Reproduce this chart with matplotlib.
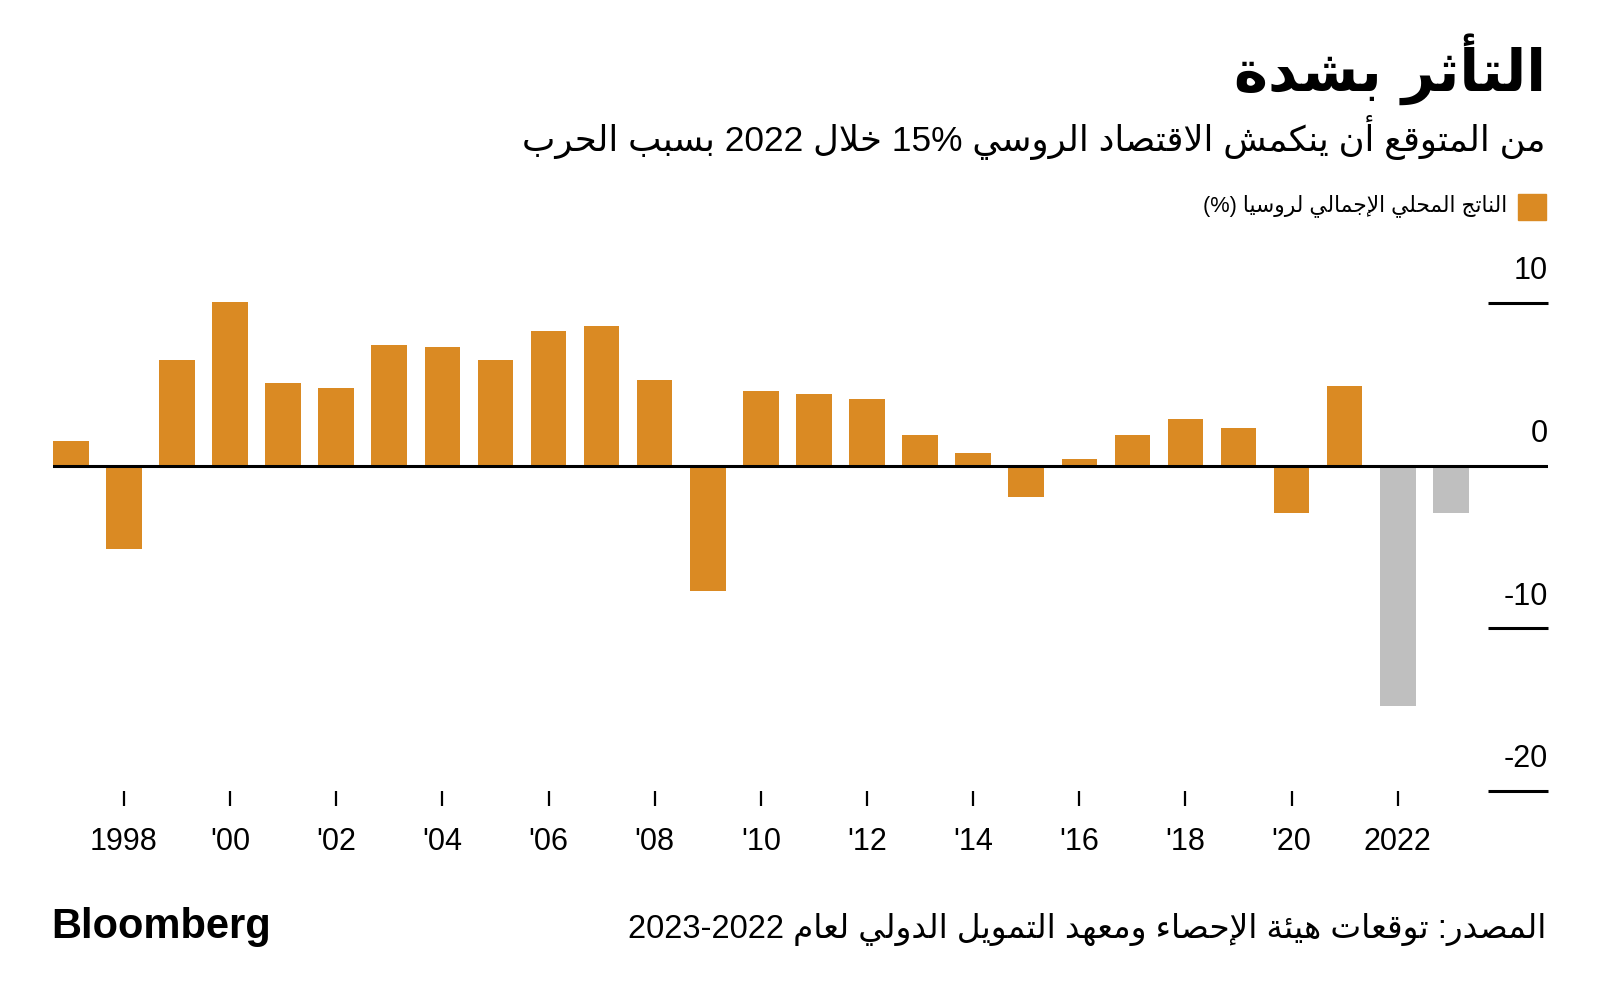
import matplotlib
matplotlib.use("Agg")
import matplotlib.pyplot as plt
from matplotlib.patches import Rectangle

# data
years = list(range(1997, 2024))
gdp = [1.5, -5.1, 6.5, 10.1, 5.1, 4.8, 7.4, 7.3, 6.5, 8.3, 8.6, 5.3, -7.7,
       4.6, 4.4, 4.1, 1.9, 0.8, -1.9, 0.4, 1.9, 2.9, 2.3, -2.9, 4.9,
       -14.8, -2.9]
forecast = [False] * 25 + [True, True]
tick_years = list(range(1998, 2023, 2))
tick_labels = ["1998", "'00", "'02", "'04", "'06", "'08", "'10", "'12",
               "'14", "'16", "'18", "'20", "2022"]
y_levels = [10, 0, -10, -20]

title = "التأثر بشدة"
subtitle = "من المتوقع أن ينكمش الاقتصاد الروسي 15% خلال 2022 بسبب الحرب"
legend_label = "الناتج المحلي الإجمالي لروسيا (%)"
source = "المصدر: توقعات هيئة الإحصاء ومعهد التمويل الدولي لعام 2023-2022"

ORANGE = "#DA8A23"
GREY = "#BFBFBF"

# --- tiny arabic shaper (matplotlib has no text shaping / bidi) ---
# first presentation form of each letter; dual-joining ones have 4 forms
FORMS = {'ء': 0xFE80, 'آ': 0xFE81, 'أ': 0xFE83, 'ؤ': 0xFE85, 'إ': 0xFE87,
         'ئ': 0xFE89, 'ا': 0xFE8D, 'ب': 0xFE8F, 'ة': 0xFE93, 'ت': 0xFE95,
         'ث': 0xFE99, 'ج': 0xFE9D, 'ح': 0xFEA1, 'خ': 0xFEA5, 'د': 0xFEA9,
         'ذ': 0xFEAB, 'ر': 0xFEAD, 'ز': 0xFEAF, 'س': 0xFEB1, 'ش': 0xFEB5,
         'ص': 0xFEB9, 'ض': 0xFEBD, 'ط': 0xFEC1, 'ظ': 0xFEC5, 'ع': 0xFEC9,
         'غ': 0xFECD, 'ف': 0xFED1, 'ق': 0xFED5, 'ك': 0xFED9, 'ل': 0xFEDD,
         'م': 0xFEE1, 'ن': 0xFEE5, 'ه': 0xFEE9, 'و': 0xFEED, 'ى': 0xFEEF,
         'ي': 0xFEF1}
DUAL = set('ئبتثجحخسشصضطظعغفقكلمنهي')
LAMALEF = {'آ': 0xFEF5, 'أ': 0xFEF7, 'إ': 0xFEF9, 'ا': 0xFEFB}


def shape(word):
    out = []
    i = 0
    n = len(word)
    while i < n:
        c = word[i]
        if c not in FORMS:
            out.append(c)
            i += 1
            continue
        prev_joins = i > 0 and word[i - 1] in DUAL
        if c == 'ل' and i + 1 < n and word[i + 1] in LAMALEF:
            out.append(chr(LAMALEF[word[i + 1]] + (1 if prev_joins else 0)))
            i += 2
            continue
        nxt = word[i + 1] if i + 1 < n else ''
        next_joins = c in DUAL and nxt in FORMS and nxt != 'ء'
        if c == 'ء':
            form = 0
        elif c in DUAL:
            form = 3 if (prev_joins and next_joins) else 2 if next_joins else 1 if prev_joins else 0
        else:
            form = 1 if prev_joins else 0
        out.append(chr(FORMS[c] + form))
        i += 1
    return ''.join(out)


def rtl(text):
    # words right to left, numbers stay left to right
    words = text.split(' ')
    vis = []
    for w in reversed(words):
        if any(ch in FORMS for ch in w):
            vis.append(shape(w)[::-1])
        else:
            vis.append(w)
    return ' '.join(vis)


FONT = ['Liberation Sans', 'DejaVu Sans']
plt.rcParams['font.family'] = FONT

fig = plt.figure(figsize=(16, 10.05), dpi=100)
W, H = 1600, 1005

ax = fig.add_axes([53 / W, 1 - 791 / H, (1548 - 53) / W, 496 / H])
colors = [GREY if f else ORANGE for f in forecast]
ax.bar(years, gdp, width=0.67, color=colors, zorder=2)
ax.axhline(0, color='black', lw=2.2, zorder=3)

ax.set_xlim(1996.665, 2024.83)
ax.set_ylim(-20, 10.5)
for s in ax.spines.values():
    s.set_visible(False)

ax.set_yticks([])
ax.set_xticks(tick_years)
ax.set_xticklabels(tick_labels, fontsize=22)
ax.tick_params(axis='x', direction='out', length=11, width=1.6, pad=15,
               colors='black')

ytr = ax.get_yaxis_transform()
for v in y_levels:
    if v != 0:
        ax.plot([0.96, 1.0], [v, v], transform=ytr, color='black', lw=2.2,
                solid_capstyle='butt', clip_on=False)
    ax.annotate(str(v), xy=(1.0, v), xycoords=ytr, xytext=(0, 12),
                textcoords='offset points', ha='right', va='bottom',
                fontsize=22)

# header
fig.text(1546 / W, 1 - 69 / H, rtl(title), ha='right', va='center',
         fontsize=41.5, fontweight='bold', family=['DejaVu Sans'])
fig.text(1546 / W, 1 - 138 / H, rtl(subtitle), ha='right', va='center',
         fontsize=25.5, family=FONT)
fig.patches.append(Rectangle((1518 / W, 1 - 220 / H), 28 / W, 26 / H,
                             transform=fig.transFigure, color=ORANGE))
fig.text(1507 / W, 1 - 206 / H, rtl(legend_label), ha='right', va='center',
         fontsize=15.7, family=FONT)

# footer
fig.text(51 / W, 1 - 927 / H, "Bloomberg", ha='left', va='center',
         fontsize=30, fontweight='bold', family=['Liberation Sans'])
fig.text(1546 / W, 1 - 929 / H, rtl(source), ha='right', va='center',
         fontsize=23.5, family=FONT)

fig.savefig("out.png", dpi=100)
